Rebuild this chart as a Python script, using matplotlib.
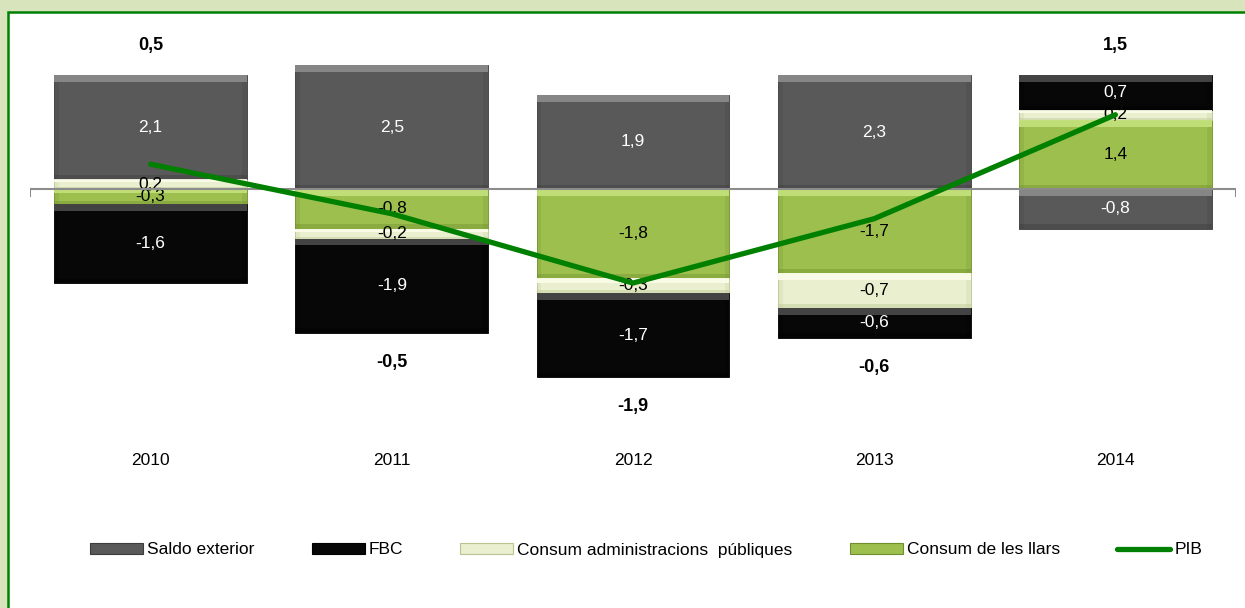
import matplotlib.pyplot as plt
from matplotlib.patches import Rectangle
from matplotlib.lines import Line2D
import numpy as np

plt.rcParams['font.family'] = ['Liberation Sans', 'DejaVu Sans']

# Dades
anys = ['2010', '2011', '2012', '2013', '2014']
saldo_exterior = [2.1, 2.5, 1.9, 2.3, -0.8]
fbc = [-1.6, -1.9, -1.7, -0.6, 0.7]
consum_admin = [0.2, -0.2, -0.3, -0.7, 0.2]
consum_llars = [-0.3, -0.8, -1.8, -1.7, 1.4]
pib = [0.5, -0.5, -1.9, -0.6, 1.5]

# ordre d'apilament des de l'eix cap enfora
series = [
    ('Consum de les llars', consum_llars, '#9dbf4e', '#c4e27c', '#6f8f2c', 'black'),
    ('Consum administracions  públiques', consum_admin, '#e9efcf', '#fcfdea', '#b9c490', 'black'),
    ('FBC', fbc, '#070707', '#4a4a4a', '#000000', 'white'),
    ('Saldo exterior', saldo_exterior, '#595959', '#8c8c8c', '#3c3c3c', 'white'),
]

W, H = 1245, 608
fig = plt.figure(figsize=(W / 100, H / 100), dpi=100)
fig.patch.set_facecolor('#d8e4bc')
# marc blanc amb vora verda
fig.patches.append(Rectangle((8 / W, -0.05), 1.1, (H - 12) / H + 0.05,
                             transform=fig.transFigure, facecolor='white',
                             edgecolor='#008000', linewidth=1.8, zorder=-5))

ax = fig.add_axes([30 / W, (H - 480) / H, 1206 / W, 450 / H])
ax.set_xlim(-0.5, 4.5)
ax.set_ylim(-(480 - 189) / 49.5, (189 - 30) / 49.5)
ax.axis('off')
ax.patch.set_alpha(0)

x = np.arange(len(anys))
bw = 0.8
pos = np.zeros(len(anys))
neg = np.zeros(len(anys))

for nom, vals, c, cl, cd, tc in series:
    vals = np.array(vals)
    base = np.where(vals >= 0, pos, neg)
    ax.bar(x, vals, bw, bottom=base, color=c, edgecolor=cd, linewidth=0.6, zorder=2)
    # efecte bisell: franja clara a dalt, fosca a baix
    top = base + vals
    hi = np.maximum(base, top)
    lo = np.minimum(base, top)
    band = np.minimum(0.14, np.abs(vals) * 0.3)
    ax.bar(x, band, bw, bottom=hi - band, color=cl, linewidth=0, alpha=0.9, zorder=2.1)
    ax.bar(x, band * 0.6, bw, bottom=lo, color=cd, linewidth=0, alpha=0.4, zorder=2.1)
    ax.bar(x - bw / 2 + 0.01, hi - lo - band, 0.02, bottom=lo, color=cd,
           linewidth=0, alpha=0.2, zorder=2.1)
    ax.bar(x + bw / 2 - 0.01, hi - lo - band, 0.02, bottom=lo, color=cd,
           linewidth=0, alpha=0.2, zorder=2.1)
    for xi, b, v in zip(x, base, vals):
        ax.text(xi, b + v / 2, f'{v:.1f}'.replace('.', ','), ha='center', va='center',
                color=tc, fontsize=12.5, zorder=3)
    pos = np.where(vals >= 0, pos + vals, pos)
    neg = np.where(vals < 0, neg + vals, neg)

# eix zero
ax.plot([-0.5, 4.5], [0, 0], color='#8c8c8c', lw=1.5, zorder=3.5)
ax.plot([-0.5, -0.5], [0, -0.14], color='#8c8c8c', lw=1.5, zorder=3.5)
ax.plot([4.5, 4.5], [0, -0.14], color='#8c8c8c', lw=1.5, zorder=3.5)

# PIB
ax.plot(x, pib, color='#008000', lw=3.8, solid_capstyle='round', zorder=4)
for xi, p, t, b in zip(x, pib, pos, neg):
    y = t + 0.6 if p >= 0 else b - 0.6
    ax.text(xi, y, f'{p:.1f}'.replace('.', ','), ha='center', va='center',
            fontsize=13, fontweight='bold', zorder=5)

for xi, a in zip(x, anys):
    ax.text(xi, -(460 - 189) / 49.5, a, ha='center', va='center', fontsize=12.5)

handles = [Rectangle((0, 0), 1, 1, facecolor=s[2], edgecolor=s[4], lw=0.8)
           for s in [series[3], series[2], series[1], series[0]]]
labels = [series[3][0], series[2][0], series[1][0], series[0][0]]
handles.append(Line2D([], [], color='#008000', lw=3.8, solid_capstyle='round'))
labels.append('PIB')
fig.legend(handles, labels, loc='center', bbox_to_anchor=(0.519, 1 - 550 / H),
           ncol=5, frameon=False, fontsize=12.5, handlelength=3.05, handleheight=0.55,
           handletextpad=0.23, columnspacing=3.3)

fig.savefig('out.png', dpi=100, facecolor=fig.get_facecolor())
